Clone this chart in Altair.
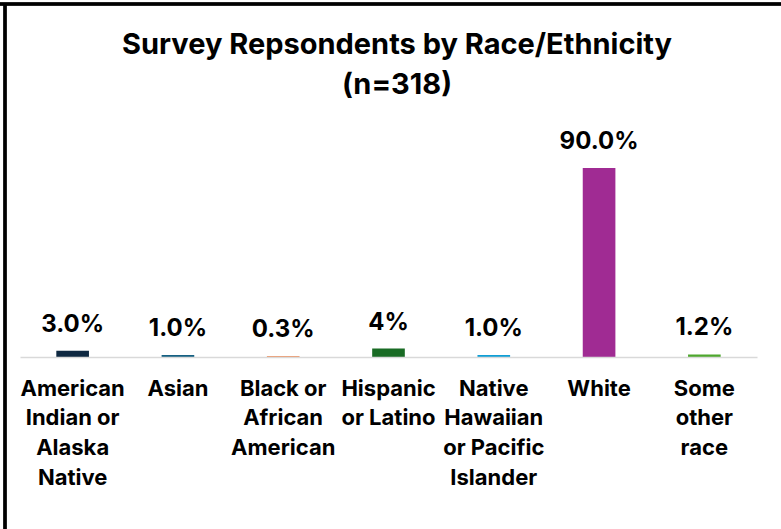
import altair as alt
import pandas as pd

# Survey respondents by race/ethnicity, share of respondents (%)
categories = [
    "American|Indian or|Alaska|Native",
    "Asian",
    "Black or|African|American",
    "Hispanic|or Latino",
    "Native|Hawaiian|or Pacific|Islander",
    "White",
    "Some|other|race",
]
values = [3.0, 1.0, 0.3, 4.0, 1.0, 90.0, 1.2]
labels = ["3.0%", "1.0%", "0.3%", "4%", "1.0%", "90.0%", "1.2%"]
colors = ["#0E2841", "#156082", "#E97132", "#196B24", "#0F9ED5", "#A02B93", "#4EA72E"]
title_lines = ["Survey Repsondents by Race/Ethnicity", "(n=318)"]

df = pd.DataFrame({"cat": categories, "value": values, "label": labels})
title_df = pd.DataFrame({"line": title_lines, "row": [0, 1]})

FONT = "Inter"

x = alt.X(
    "cat:N",
    sort=categories,
    scale=alt.Scale(paddingInner=0.69, paddingOuter=0.345),
    axis=alt.Axis(
        title=None,
        labelAngle=0,
        labelExpr="split(datum.label, '|')",
        labelFont=FONT,
        labelFontSize=22,
        labelFontWeight="bold",
        labelColor="#000000",
        labelLineHeight=29.7,
        labelPadding=21,
        labelBaseline="top",
        ticks=False,
        domainColor="#D9D9D9",
        domainWidth=1.5,
        grid=False,
        zindex=1,
    ),
)
y = alt.Y("value:Q", scale=alt.Scale(domain=[0, 100]), axis=None)

bars = alt.Chart(df).mark_bar().encode(
    x=x,
    y=y,
    color=alt.Color("cat:N", sort=categories,
                    scale=alt.Scale(domain=categories, range=colors), legend=None),
)

text = alt.Chart(df).mark_text(
    font=FONT, fontSize=24, fontWeight="bold", color="#000000",
    baseline="middle", dy=-26,
).encode(x=x, y=y, text="label:N")


def title_line(row, ypos):
    """One line of the two-line chart title, centred above the plot."""
    return alt.Chart(title_df).transform_filter(
        alt.datum.row == row
    ).mark_text(
        font=FONT, fontSize=29, fontWeight="bold", color="#000000",
        baseline="middle", align="center",
    ).encode(x=alt.value(377), y=alt.value(ypos), text="line:N")


title1 = title_line(0, -102)
title2 = title_line(1, -62)

# Frame lines along the top and left edge of the chart
frame_top = alt.Chart(df).mark_rule(color="#000000", strokeWidth=2.5).encode(
    x=alt.value(-20), x2=alt.value(780), y=alt.value(-143)
)
frame_left = alt.Chart(df).mark_rule(color="#000000", strokeWidth=2.5).encode(
    x=alt.value(-15), y=alt.value(-143), y2=alt.value(400)
)

chart = (
    alt.layer(bars, text, title1, title2, frame_top, frame_left)
    .properties(
        width=737,
        height=210,
        autosize=alt.AutoSizeParams(type="none"),
        padding={"left": 20, "top": 147, "right": 24, "bottom": 172},
    )
    .configure_view(stroke=None)
)

chart.save("out.html", embed_options={"renderer": "svg", "actions": False})
